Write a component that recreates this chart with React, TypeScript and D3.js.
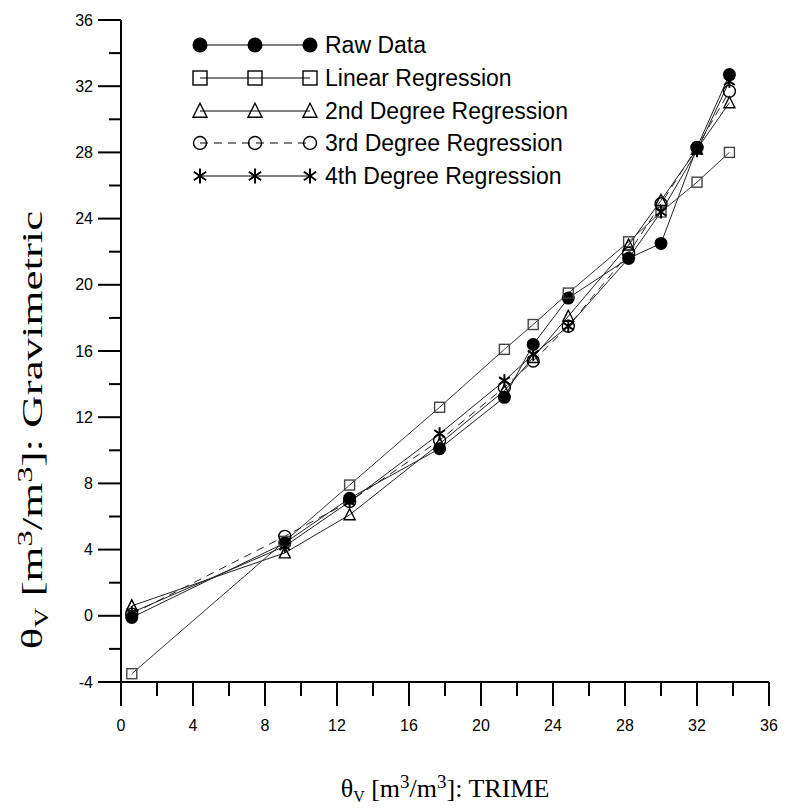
import React from "react";
import * as d3 from "d3";

const X_TRIME = [0.6, 9.1, 12.7, 17.7, 21.3, 22.9, 24.85, 28.2, 30.0, 32.0, 33.8];
const RAW = [-0.1, 4.4, 7.1, 10.1, 13.2, 16.4, 19.2, 21.6, 22.5, 28.3, 32.7];
const LINEAR = [-3.5, 4.5, 7.9, 12.6, 16.1, 17.6, 19.5, 22.6, 24.4, 26.2, 28.0];
const DEG2 = [0.6, 3.8, 6.1, 10.4, 13.6, 15.6, 18.1, 22.4, 25.1, 28.2, 31.0];
const DEG3 = [0.1, 4.8, 6.9, 10.6, 13.8, 15.4, 17.5, 21.9, 24.9, 28.3, 31.7];
const DEG4 = [0.2, 4.2, 6.9, 11.0, 14.2, 15.8, 17.5, 21.6, 24.4, 28.1, 32.3];

const SERIES_NAMES = ["Raw Data", "Linear Regression", "2nd Degree Regression", "3rd Degree Regression", "4th Degree Regression"];
const X_TICKS = [0, 4, 8, 12, 16, 20, 24, 28, 32, 36];
const Y_TICKS = [-4, 0, 4, 8, 12, 16, 20, 24, 28, 32, 36];

type MarkerKind = "dot" | "square" | "triangle" | "circle" | "star";

const SERIES: { name: string; values: number[]; kind: MarkerKind; dash?: string; stroke: string; mstroke: string }[] = [
  { name: SERIES_NAMES[0], values: RAW, kind: "dot", stroke: "#222", mstroke: "#000" },
  { name: SERIES_NAMES[1], values: LINEAR, kind: "square", stroke: "#333", mstroke: "#444" },
  { name: SERIES_NAMES[2], values: DEG2, kind: "triangle", stroke: "#222", mstroke: "#000" },
  { name: SERIES_NAMES[3], values: DEG3, kind: "circle", dash: "8,6", stroke: "#222", mstroke: "#000" },
  { name: SERIES_NAMES[4], values: DEG4, kind: "star", stroke: "#222", mstroke: "#000" },
];

function Marker({ kind, cx, cy, s, color }: { kind: MarkerKind; cx: number; cy: number; s: number; color: string }) {
  if (kind === "dot") return <circle cx={cx} cy={cy} r={s / 2} fill="#000" />;
  if (kind === "square")
    return <rect x={cx - s / 2} y={cy - s / 2} width={s} height={s} fill="none" stroke={color} strokeWidth={1.4} />;
  if (kind === "triangle") {
    const p = `M${cx},${cy - s * 0.55}L${cx - s / 2},${cy + s * 0.45}L${cx + s / 2},${cy + s * 0.45}Z`;
    return <path d={p} fill="none" stroke={color} strokeWidth={1.4} />;
  }
  if (kind === "circle") return <circle cx={cx} cy={cy} r={s / 2} fill="none" stroke={color} strokeWidth={1.4} />;
  const r = s / 2;
  const arms = [90, 35, 145].map((a) => {
    const rad = (a * Math.PI) / 180;
    return `M${cx - r * Math.cos(rad)},${cy - r * Math.sin(rad)}L${cx + r * Math.cos(rad)},${cy + r * Math.sin(rad)}`;
  });
  return <path d={arms.join("")} fill="none" stroke={color} strokeWidth={2} />;
}

export default function App() {
  const W = 799;
  const H = 809;
  const x = d3.scaleLinear().domain([0, 36]).range([121, 769]);
  const y = d3.scaleLinear().domain([-4, 36]).range([682, 20]);
  const minorX = d3.range(2, 36, 4);
  const minorY = d3.range(-2, 36, 4);
  const line = d3
    .line<[number, number]>()
    .x((d) => x(d[0]))
    .y((d) => y(d[1]));

  const legendRows = [45, 78, 111, 143, 176];
  const legendMarkX = [200, 255, 310];
  const legendSizes: Record<MarkerKind, number> = { dot: 15, square: 14, triangle: 14, circle: 13, star: 15 };
  const plotSizes: Record<MarkerKind, number> = { dot: 13, square: 10, triangle: 11, circle: 12, star: 13 };

  const sans = "'Liberation Sans', Arial, sans-serif";
  const serif = "'Liberation Serif', 'Times New Roman', serif";

  return (
    <svg width={W} height={H} style={{ position: "absolute", left: 0, top: 0, background: "#fff" }}>
      <rect x={0} y={0} width={W} height={H} fill="#fff" />
      {/* series lines */}
      {SERIES.map((s, i) => (
        <path
          key={"l" + i}
          d={line(X_TRIME.map((xv, j) => [xv, s.values[j]]) as [number, number][]) || ""}
          fill="none"
          stroke={s.stroke}
          strokeWidth={1}
          strokeDasharray={s.dash}
        />
      ))}
      {/* markers */}
      {SERIES.map((s, i) => (
        <g key={"m" + i}>
          {X_TRIME.map((xv, j) => (
            <Marker key={j} kind={s.kind} cx={x(xv)} cy={y(s.values[j])} s={plotSizes[s.kind]} color={s.mstroke} />
          ))}
        </g>
      ))}
      {/* axes */}
      <g stroke="#000" strokeWidth={2}>
        <line x1={x(0)} x2={x(0)} y1={y(36)} y2={y(-4)} />
        <line x1={x(0) - 23} x2={x(36)} y1={y(-4)} y2={y(-4)} />
        {Y_TICKS.map((t) => (
          <line key={"yt" + t} x1={x(0) - 23} x2={x(0)} y1={y(t)} y2={y(t)} />
        ))}
        {minorY.map((t) => (
          <line key={"ym" + t} x1={x(0) - 12} x2={x(0)} y1={y(t)} y2={y(t)} />
        ))}
        {X_TICKS.map((t) => (
          <line key={"xt" + t} x1={x(t)} x2={x(t)} y1={y(-4)} y2={y(-4) + 24} />
        ))}
        {minorX.map((t) => (
          <line key={"xm" + t} x1={x(t)} x2={x(t)} y1={y(-4)} y2={y(-4) + 14} />
        ))}
      </g>
      <g fontFamily={sans} fontSize={16} fill="#000">
        {Y_TICKS.map((t) => (
          <text key={"yl" + t} x={x(0) - 28} y={y(t)} dy="0.35em" textAnchor="end">
            {t}
          </text>
        ))}
        {X_TICKS.map((t) => (
          <text key={"xl" + t} x={x(t)} y={731} textAnchor="middle">
            {t}
          </text>
        ))}
      </g>
      {/* axis titles */}
      <text x={445} y={797} textAnchor="middle" fontFamily={serif} fontSize={26} fill="#000">
        θ<tspan fontSize={16} dy={5}>V</tspan>
        <tspan dy={-5}> [m</tspan>
        <tspan fontSize={19} dy={-9}>3</tspan>
        <tspan dy={9}>/m</tspan>
        <tspan fontSize={19} dy={-9}>3</tspan>
        <tspan dy={9}>]: TRIME</tspan>
      </text>
      <text
        transform={`translate(42, 430) rotate(-90) scale(1.55, 1)`}
        textAnchor="middle"
        fontFamily={serif}
        fontSize={29}
        fill="#000"
      >
        θ<tspan fontSize={18} dy={6}>V</tspan>
        <tspan dy={-6}> [m</tspan>
        <tspan fontSize={21} dy={-10}>3</tspan>
        <tspan dy={10}>/m</tspan>
        <tspan fontSize={21} dy={-10}>3</tspan>
        <tspan dy={10}>]: Gravimetric</tspan>
      </text>
      {/* legend */}
      {SERIES.map((s, i) => (
        <g key={"lg" + i}>
          <line
            x1={legendMarkX[0]}
            x2={legendMarkX[2]}
            y1={legendRows[i]}
            y2={legendRows[i]}
            stroke="#000"
            strokeWidth={1}
            strokeDasharray={s.dash}
          />
          {legendMarkX.map((mx, k) => (
            <Marker key={k} kind={s.kind} cx={mx} cy={legendRows[i]} s={legendSizes[s.kind]} color="#000" />
          ))}
          <text x={325} y={legendRows[i]} dy="0.36em" fontFamily={sans} fontSize={23} fill="#000">
            {s.name}
          </text>
        </g>
      ))}
    </svg>
  );
}
